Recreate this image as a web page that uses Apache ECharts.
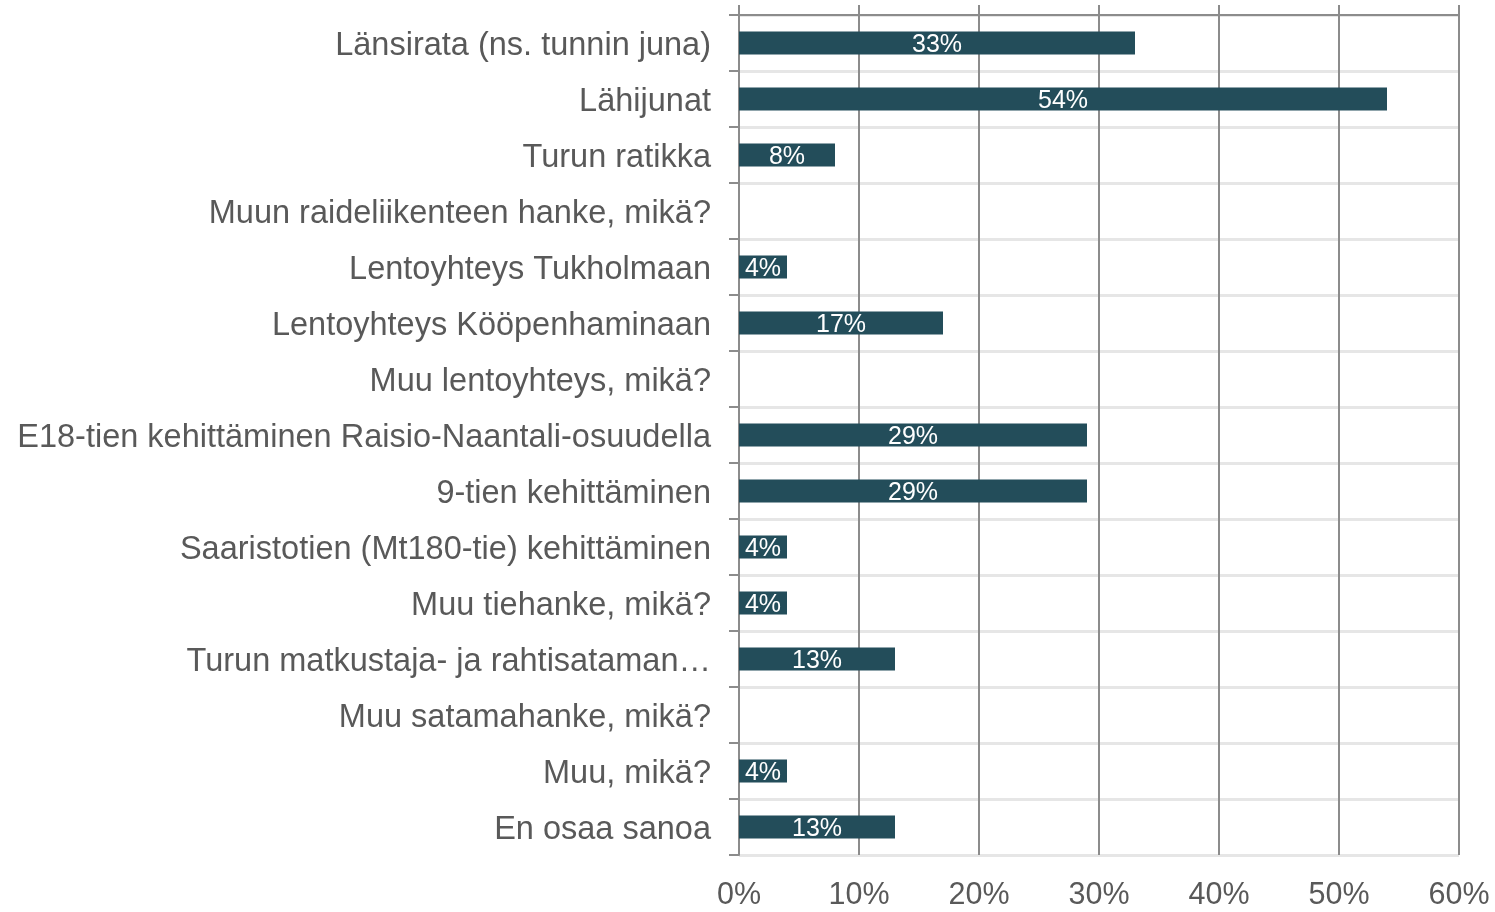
<!DOCTYPE html>
<html>
<head>
<meta charset="utf-8">
<script src="https://cdn.jsdelivr.net/npm/echarts@6/dist/echarts.min.js"></script>
<style>
  html, body { margin: 0; padding: 0; background: #fff; }
  #main { width: 1495px; height: 912px; }
</style>
</head>
<body>
<div id="main"></div>
<script>
// kategoriat ylhäältä alas
var categories = [
  'Länsirata (ns. tunnin juna)',
  'Lähijunat',
  'Turun ratikka',
  'Muun raideliikenteen hanke, mikä?',
  'Lentoyhteys Tukholmaan',
  'Lentoyhteys Kööpenhaminaan',
  'Muu lentoyhteys, mikä?',
  'E18-tien kehittäminen Raisio-Naantali-osuudella',
  '9-tien kehittäminen',
  'Saaristotien (Mt180-tie) kehittäminen',
  'Muu tiehanke, mikä?',
  'Turun matkustaja- ja rahtisataman…',
  'Muu satamahanke, mikä?',
  'Muu, mikä?',
  'En osaa sanoa'
];
// osuudet prosentteina
var values = [33, 54, 8, 0, 4, 17, 0, 29, 29, 4, 4, 13, 0, 4, 13];
var xTicks = [0, 10, 20, 30, 40, 50, 60];

var font = '"Liberation Sans", Arial, sans-serif';
var gridColor = '#8c8c8c';

var myChart = echarts.init(document.getElementById('main'));
myChart.setOption({
  animation: false,
  grid: { left: 739, right: 36, top: 15, bottom: 57, containLabel: false },
  xAxis: [
    {
      type: 'value',
      position: 'bottom',
      min: xTicks[0],
      max: xTicks[xTicks.length - 1],
      interval: 10,
      axisLine: { show: false },
      axisTick: { show: false },
      splitLine: { show: true, lineStyle: { color: gridColor, width: 2 } },
      axisLabel: {
        formatter: '{value}%',
        fontSize: 30.5,
        color: '#595959',
        fontFamily: font,
        margin: 25
      }
    },
    {
      // ylempi reuna ja pienet väkäset
      type: 'value',
      position: 'top',
      min: xTicks[0],
      max: xTicks[xTicks.length - 1],
      interval: 10,
      axisLine: { show: true, lineStyle: { color: gridColor, width: 2 } },
      axisTick: { show: true, length: 10, lineStyle: { color: gridColor, width: 2 } },
      axisLabel: { show: false },
      splitLine: { show: false }
    }
  ],
  yAxis: {
    type: 'category',
    inverse: true,
    data: categories,
    axisLine: { show: true, lineStyle: { color: gridColor, width: 2 } },
    axisTick: { show: true, length: 10, lineStyle: { color: gridColor, width: 2 } },
    splitLine: { show: true, lineStyle: { color: '#e6e6e6', width: 3 } },
    axisLabel: {
      margin: 28,
      formatter: function (v) { return '{a|' + v + '}'; },
      rich: {
        a: {
          fontSize: 32.5,
          color: '#595959',
          fontFamily: font,
          padding: [7, 0, 0, 0]
        }
      }
    }
  },
  series: [{
    type: 'bar',
    xAxisIndex: 0,
    data: values,
    barWidth: 23,
    itemStyle: { color: '#234d5a' },
    label: {
      show: true,
      position: 'inside',
      offset: [0, 2],
      color: '#fff',
      fontSize: 25,
      fontFamily: font,
      formatter: function (p) { return p.value > 0 ? p.value + '%' : ''; }
    }
  }]
});
</script>
</body>
</html>
